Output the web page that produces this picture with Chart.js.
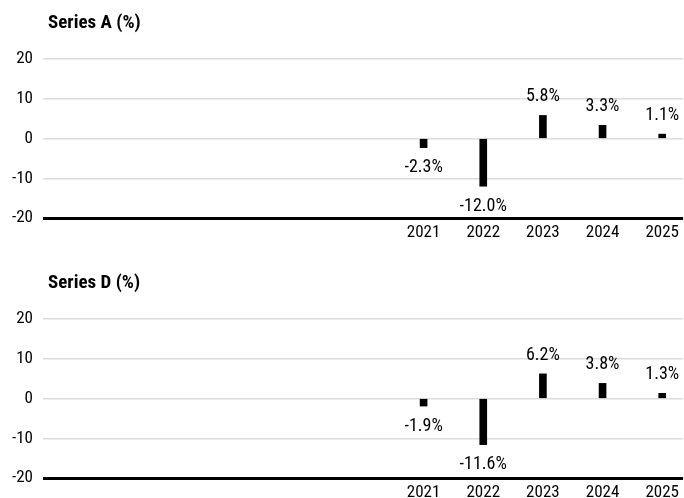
<!DOCTYPE html>
<html>
<head>
<meta charset="utf-8">
<script src="https://cdn.jsdelivr.net/npm/chart.js@4"></script>
<style>
  html, body { margin: 0; padding: 0; background: #fff; width: 684px; height: 498px; overflow: hidden; }
  .panel { position: absolute; left: 0; width: 684px; height: 260px; }
</style>
</head>
<body>
<div class="panel" style="top:0"><canvas id="c1" width="684" height="260"></canvas></div>
<div class="panel" style="top:260px"><canvas id="c2" width="684" height="260"></canvas></div>
<script>
const years = [2021, 2022, 2023, 2024, 2025];
const seriesA = [-2.3, -12.0, 5.8, 3.3, 1.1];
const seriesD = [-1.9, -11.6, 6.2, 3.8, 1.3];
const titles = ['Series A (%)', 'Series D (%)'];
const yMin = -20, yMax = 20, yStep = 10;

const FONT = '"Roboto Condensed", "Liberation Sans", sans-serif';

const labelPlugin = {
  id: 'valueLabels',
  afterDatasetsDraw(chart) {
    const ctx = chart.ctx;
    const meta = chart.getDatasetMeta(0);
    const data = chart.data.datasets[0].data;
    ctx.save();
    ctx.fillStyle = '#000';
    ctx.font = '18px ' + FONT;
    ctx.textAlign = 'center';
    meta.data.forEach((el, i) => {
      const v = data[i].y;
      const txt = v.toFixed(1) + '%';
      if (v >= 0) {
        ctx.textBaseline = 'alphabetic';
        ctx.fillText(txt, el.x, el.y - 14);
      } else {
        ctx.textBaseline = 'top';
        ctx.fillText(txt, el.x, el.y + 11);
      }
    });
    ctx.restore();
  }
};

const titlePlugin = {
  id: 'panelTitle',
  afterDraw(chart) {
    const ctx = chart.ctx;
    ctx.save();
    ctx.fillStyle = '#000';
    ctx.font = 'bold 19px ' + FONT;
    ctx.textAlign = 'left';
    ctx.textBaseline = 'alphabetic';
    ctx.fillText(chart.options.plugins.panelTitle.text, 48, 28);
    ctx.restore();
  }
};

function makeChart(id, values, title) {
  const points = years.map((y, i) => ({ x: y, y: values[i] }));
  return new Chart(document.getElementById(id), {
    type: 'bar',
    data: { datasets: [{ data: points, backgroundColor: '#000', borderWidth: 0, barThickness: 7 }] },
    options: {
      responsive: false,
      animation: false,
      devicePixelRatio: 1,
      layout: { padding: { top: 59, left: 0, right: 0, bottom: 0 } },
      plugins: { legend: { display: false }, tooltip: { enabled: false }, title: { display: false }, panelTitle: { text: title } },
      scales: {
        x: {
          type: 'linear',
          offset: false,
          min: 2014.62,
          max: 2025.35,
          afterBuildTicks(scale) { scale.ticks = years.map(v => ({ value: v })); },
          afterFit(scale) { scale.height = 42; },
          grid: { display: false, drawTicks: false, offset: false },
          border: { display: false },
          ticks: { color: '#000', font: { family: FONT, size: 17 }, padding: 5, maxRotation: 0, autoSkip: false, callback: v => String(v) }
        },
        y: {
          min: yMin, max: yMax,
          afterFit(scale) { scale.width = 43; },
          ticks: { stepSize: yStep, color: '#000', font: { family: FONT, size: 17 }, padding: 10 },
          grid: {
            drawTicks: false,
            color: c => (c.tick && c.tick.value === yMin) ? '#000' : '#dcdcdc',
            lineWidth: c => (c.tick && c.tick.value === yMin) ? 3 : 1.5
          },
          border: { display: false }
        }
      }
    },
    plugins: [labelPlugin, titlePlugin]
  });
}

makeChart('c1', seriesA, titles[0]);
makeChart('c2', seriesD, titles[1]);
</script>
</body>
</html>
